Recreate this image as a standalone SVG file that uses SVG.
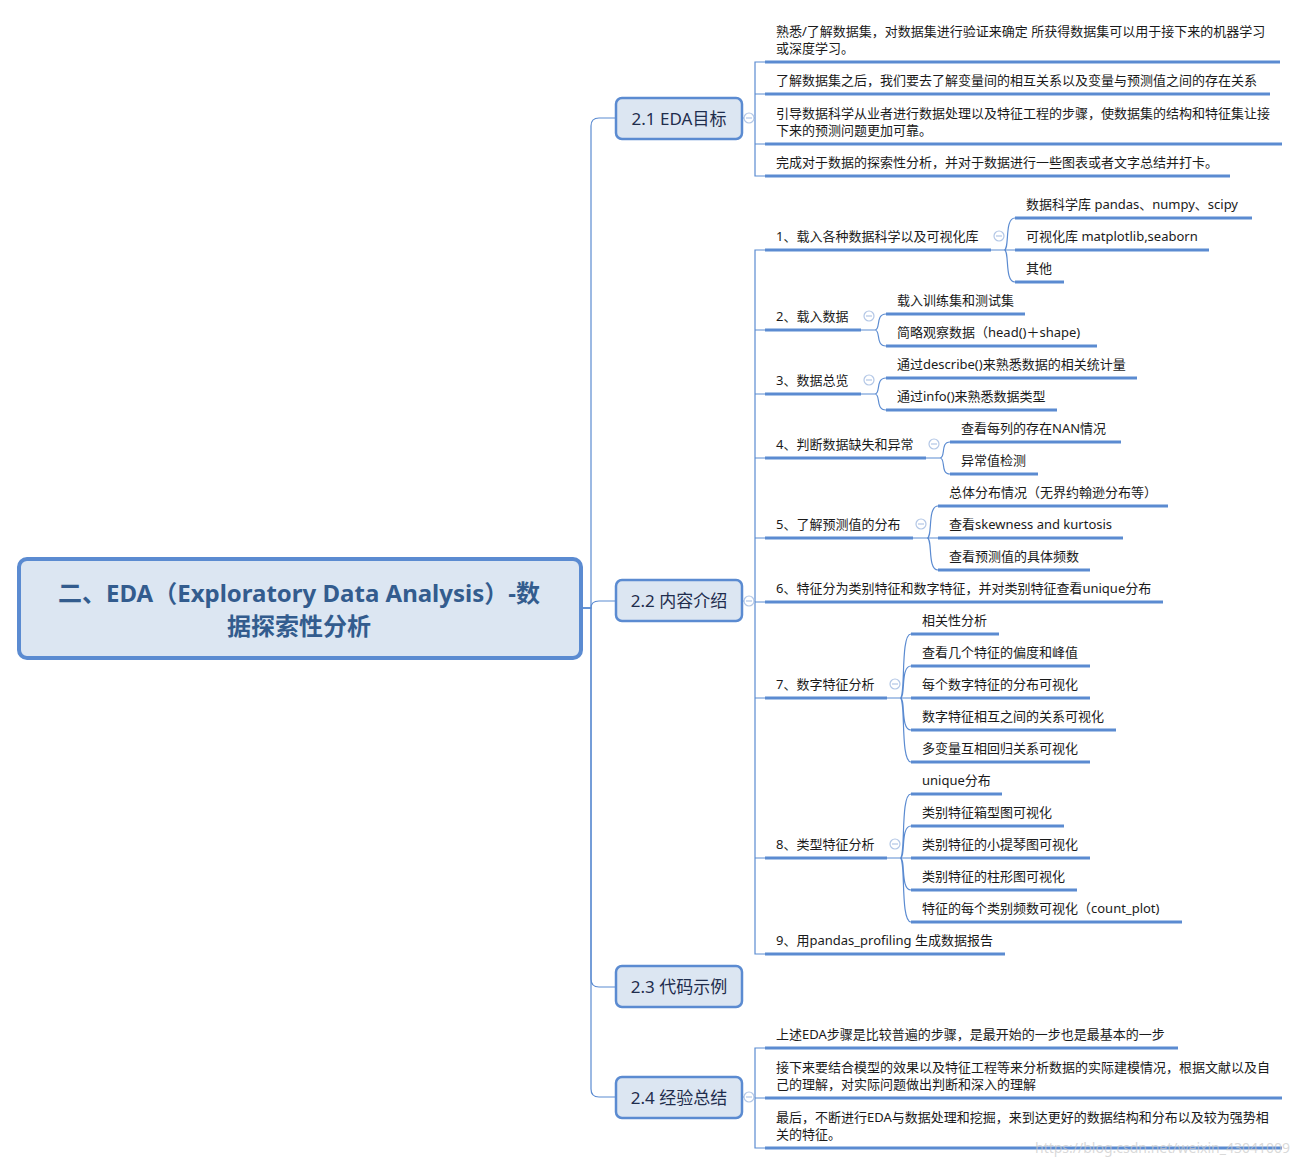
<svg xmlns="http://www.w3.org/2000/svg" width="1300" height="1165" viewBox="0 0 1300 1165">
<style>
text{font-family:"Noto Sans","Noto Sans CJK SC",sans-serif;}
.t{font-size:13px;fill:#1a1a1a;}
.u{stroke:#5b8bd1;stroke-width:3;fill:none;}
.c{stroke:#5b8bd1;stroke-width:1.2;fill:none;}
.n1 rect{fill:#dce6f2;stroke:#5b8bd1;stroke-width:2.5;}
.n1 text{font-size:17px;fill:#1f2d4d;text-anchor:middle;}
</style>
<defs>
<g id="ck"><circle r="5" fill="#fff" stroke="#b3c7e6" stroke-width="1.2"/><path d="M-3,0 H3" stroke="#b3c7e6" stroke-width="1.2"/></g>
</defs>
<rect width="1300" height="1165" fill="#fff"/>

<g id="connectors">
<path class="c" d="M583,608 H591 V126 Q591,118 599,118 H616"/>
<path class="c" d="M583,608 H591 Q591,601 599,601 H616"/>
<path class="c" d="M583,608 H591 V979 Q591,987 599,987 H616"/>
<path class="c" d="M583,608 H591 V1089 Q591,1097 599,1097 H616"/>
<path class="c" d="M742,118 H755 V62 H765 M755,118 V94 H765 M755,118 V144 H765 M755,118 V176 H765"/>
<path class="c" d="M742,601 H755 V250 H765 M755,601 V330 H765 M755,601 V394 H765 M755,601 V458 H765 M755,601 V538 H765 M755,601 V602 H765 M755,601 V698 H765 M755,601 V858 H765 M755,601 V954 H765"/>
<path class="c" d="M742,1097 H755 V1048 H765 M755,1097 V1098 H765 M755,1097 V1148 H765"/>
<path class="c" d="M991,250 H1004 C1010,250 1004,218 1015,218 M1004,250 H1015 M1004,250 C1010,250 1004,282 1015,282"/>
<path class="c" d="M861,330 H875 C881,330 875,314 886,314 M875,330 C881,330 875,346 886,346"/>
<path class="c" d="M861,394 H875 C881,394 875,378 886,378 M875,394 C881,394 875,410 886,410"/>
<path class="c" d="M926,458 H940 C946,458 940,442 950,442 M940,458 C946,458 940,474 950,474"/>
<path class="c" d="M913,538 H927 C933,538 927,506 938,506 M927,538 H938 M927,538 C933,538 927,570 938,570"/>
<path class="c" d="M887,698 H900 C906,698 900,634 911,634 M900,698 C906,698 900,666 911,666 M900,698 H911 M900,698 C906,698 900,730 911,730 M900,698 C906,698 900,762 911,762"/>
<path class="c" d="M887,858 H900 C906,858 900,794 911,794 M900,858 C906,858 900,826 911,826 M900,858 H911 M900,858 C906,858 900,890 911,890 M900,858 C906,858 900,922 911,922"/>
</g>

<g id="root">
<rect x="19" y="559" width="562" height="99" rx="8" fill="#dce6f2" stroke="#5b8bd1" stroke-width="4"/>
<text x="299" y="602" font-size="24" font-weight="bold" fill="#335c8e" text-anchor="middle">二、EDA（Exploratory Data Analysis）-数</text>
<text x="299" y="635" font-size="24" font-weight="bold" fill="#335c8e" text-anchor="middle">据探索性分析</text>
</g>

<g id="n21" class="n1"><rect x="616" y="98" width="126" height="41" rx="6"/><text x="679" y="124.5">2.1 EDA目标</text></g>
<g id="n22" class="n1"><rect x="616" y="580" width="126" height="41" rx="6"/><text x="679" y="607">2.2 内容介绍</text></g>
<g id="n23" class="n1"><rect x="616" y="966" width="126" height="41" rx="6"/><text x="679" y="993">2.3 代码示例</text></g>
<g id="n24" class="n1"><rect x="616" y="1077" width="126" height="41" rx="6"/><text x="679" y="1104">2.4 经验总结</text></g>

<g id="collapse">
<use href="#ck" x="749" y="118"/><use href="#ck" x="749" y="601"/><use href="#ck" x="749" y="1097"/>
<use href="#ck" x="999" y="236"/><use href="#ck" x="869" y="316"/><use href="#ck" x="869" y="380"/>
<use href="#ck" x="934" y="444"/><use href="#ck" x="921" y="524"/><use href="#ck" x="895" y="684"/><use href="#ck" x="895" y="844"/>
</g>

<!-- 2.1 children -->
<g id="g21a"><path class="u" d="M765,62 H1280"/><text class="t" x="776" y="36">熟悉/了解数据集，对数据集进行验证来确定 所获得数据集可以用于接下来的机器学习</text><text class="t" x="776" y="53">或深度学习。</text></g>
<g id="g21b"><path class="u" d="M765,94 H1270"/><text class="t" x="776" y="85">了解数据集之后，我们要去了解变量间的相互关系以及变量与预测值之间的存在关系</text></g>
<g id="g21c"><path class="u" d="M765,144 H1282"/><text class="t" x="776" y="118">引导数据科学从业者进行数据处理以及特征工程的步骤，使数据集的结构和特征集让接</text><text class="t" x="776" y="135">下来的预测问题更加可靠。</text></g>
<g id="g21d"><path class="u" d="M765,176 H1230"/><text class="t" x="776" y="167">完成对于数据的探索性分析，并对于数据进行一些图表或者文字总结并打卡。</text></g>

<!-- 2.2 children -->
<g id="p1"><path class="u" d="M765,250 H991"/><text class="t" x="776" y="241">1、载入各种数据科学以及可视化库</text></g>
<g id="p1a"><path class="u" d="M1015,218 H1252"/><text class="t" x="1026" y="209">数据科学库 pandas、numpy、scipy</text></g>
<g id="p1b"><path class="u" d="M1015,250 H1209"/><text class="t" x="1026" y="241">可视化库 matplotlib,seaborn</text></g>
<g id="p1c"><path class="u" d="M1015,282 H1064"/><text class="t" x="1026" y="273">其他</text></g>

<g id="p2"><path class="u" d="M765,330 H861"/><text class="t" x="776" y="321">2、载入数据</text></g>
<g id="p2a"><path class="u" d="M886,314 H1025"/><text class="t" x="897" y="305">载入训练集和测试集</text></g>
<g id="p2b"><path class="u" d="M886,346 H1097"/><text class="t" x="897" y="337">简略观察数据（head()＋shape)</text></g>

<g id="p3"><path class="u" d="M765,394 H861"/><text class="t" x="776" y="385">3、数据总览</text></g>
<g id="p3a"><path class="u" d="M886,378 H1137"/><text class="t" x="897" y="369">通过describe()来熟悉数据的相关统计量</text></g>
<g id="p3b"><path class="u" d="M886,410 H1057"/><text class="t" x="897" y="401">通过info()来熟悉数据类型</text></g>

<g id="p4"><path class="u" d="M765,458 H926"/><text class="t" x="776" y="449">4、判断数据缺失和异常</text></g>
<g id="p4a"><path class="u" d="M950,442 H1121"/><text class="t" x="961" y="433">查看每列的存在NAN情况</text></g>
<g id="p4b"><path class="u" d="M950,474 H1038"/><text class="t" x="961" y="465">异常值检测</text></g>

<g id="p5"><path class="u" d="M765,538 H913"/><text class="t" x="776" y="529">5、了解预测值的分布</text></g>
<g id="p5a"><path class="u" d="M938,506 H1168"/><text class="t" x="949" y="497">总体分布情况（无界约翰逊分布等）</text></g>
<g id="p5b"><path class="u" d="M938,538 H1123"/><text class="t" x="949" y="529">查看skewness and kurtosis</text></g>
<g id="p5c"><path class="u" d="M938,570 H1090"/><text class="t" x="949" y="561">查看预测值的具体频数</text></g>

<g id="p6"><path class="u" d="M765,602 H1163"/><text class="t" x="776" y="593">6、特征分为类别特征和数字特征，并对类别特征查看unique分布</text></g>

<g id="p7"><path class="u" d="M765,698 H887"/><text class="t" x="776" y="689">7、数字特征分析</text></g>
<g id="p7a"><path class="u" d="M911,634 H999"/><text class="t" x="922" y="625">相关性分析</text></g>
<g id="p7b"><path class="u" d="M911,666 H1090"/><text class="t" x="922" y="657">查看几个特征的偏度和峰值</text></g>
<g id="p7c"><path class="u" d="M911,698 H1090"/><text class="t" x="922" y="689">每个数字特征的分布可视化</text></g>
<g id="p7d"><path class="u" d="M911,730 H1116"/><text class="t" x="922" y="721">数字特征相互之间的关系可视化</text></g>
<g id="p7e"><path class="u" d="M911,762 H1090"/><text class="t" x="922" y="753">多变量互相回归关系可视化</text></g>

<g id="p8"><path class="u" d="M765,858 H887"/><text class="t" x="776" y="849">8、类型特征分析</text></g>
<g id="p8a"><path class="u" d="M911,794 H1002"/><text class="t" x="922" y="785">unique分布</text></g>
<g id="p8b"><path class="u" d="M911,826 H1064"/><text class="t" x="922" y="817">类别特征箱型图可视化</text></g>
<g id="p8c"><path class="u" d="M911,858 H1090"/><text class="t" x="922" y="849">类别特征的小提琴图可视化</text></g>
<g id="p8d"><path class="u" d="M911,890 H1077"/><text class="t" x="922" y="881">类别特征的柱形图可视化</text></g>
<g id="p8e"><path class="u" d="M911,922 H1182"/><text class="t" x="922" y="913">特征的每个类别频数可视化（count_plot)</text></g>

<g id="p9"><path class="u" d="M765,954 H1005"/><text class="t" x="776" y="945">9、用pandas_profiling 生成数据报告</text></g>

<!-- 2.4 children -->
<g id="g24a"><path class="u" d="M765,1048 H1178"/><text class="t" x="776" y="1039">上述EDA步骤是比较普遍的步骤，是最开始的一步也是最基本的一步</text></g>
<g id="g24b"><path class="u" d="M765,1098 H1282"/><text class="t" x="776" y="1072">接下来要结合模型的效果以及特征工程等来分析数据的实际建模情况，根据文献以及自</text><text class="t" x="776" y="1089">己的理解，对实际问题做出判断和深入的理解</text></g>
<g id="g24c"><path class="u" d="M765,1148 H1282"/><text class="t" x="776" y="1122">最后，不断进行EDA与数据处理和挖掘，来到达更好的数据结构和分布以及较为强势相</text><text class="t" x="776" y="1139">关的特征。</text></g>

<text x="1290" y="1153" font-size="14" fill="#c8c8c8" fill-opacity="0.7" text-anchor="end">https://blog.csdn.net/weixin_43041009</text>
</svg>
